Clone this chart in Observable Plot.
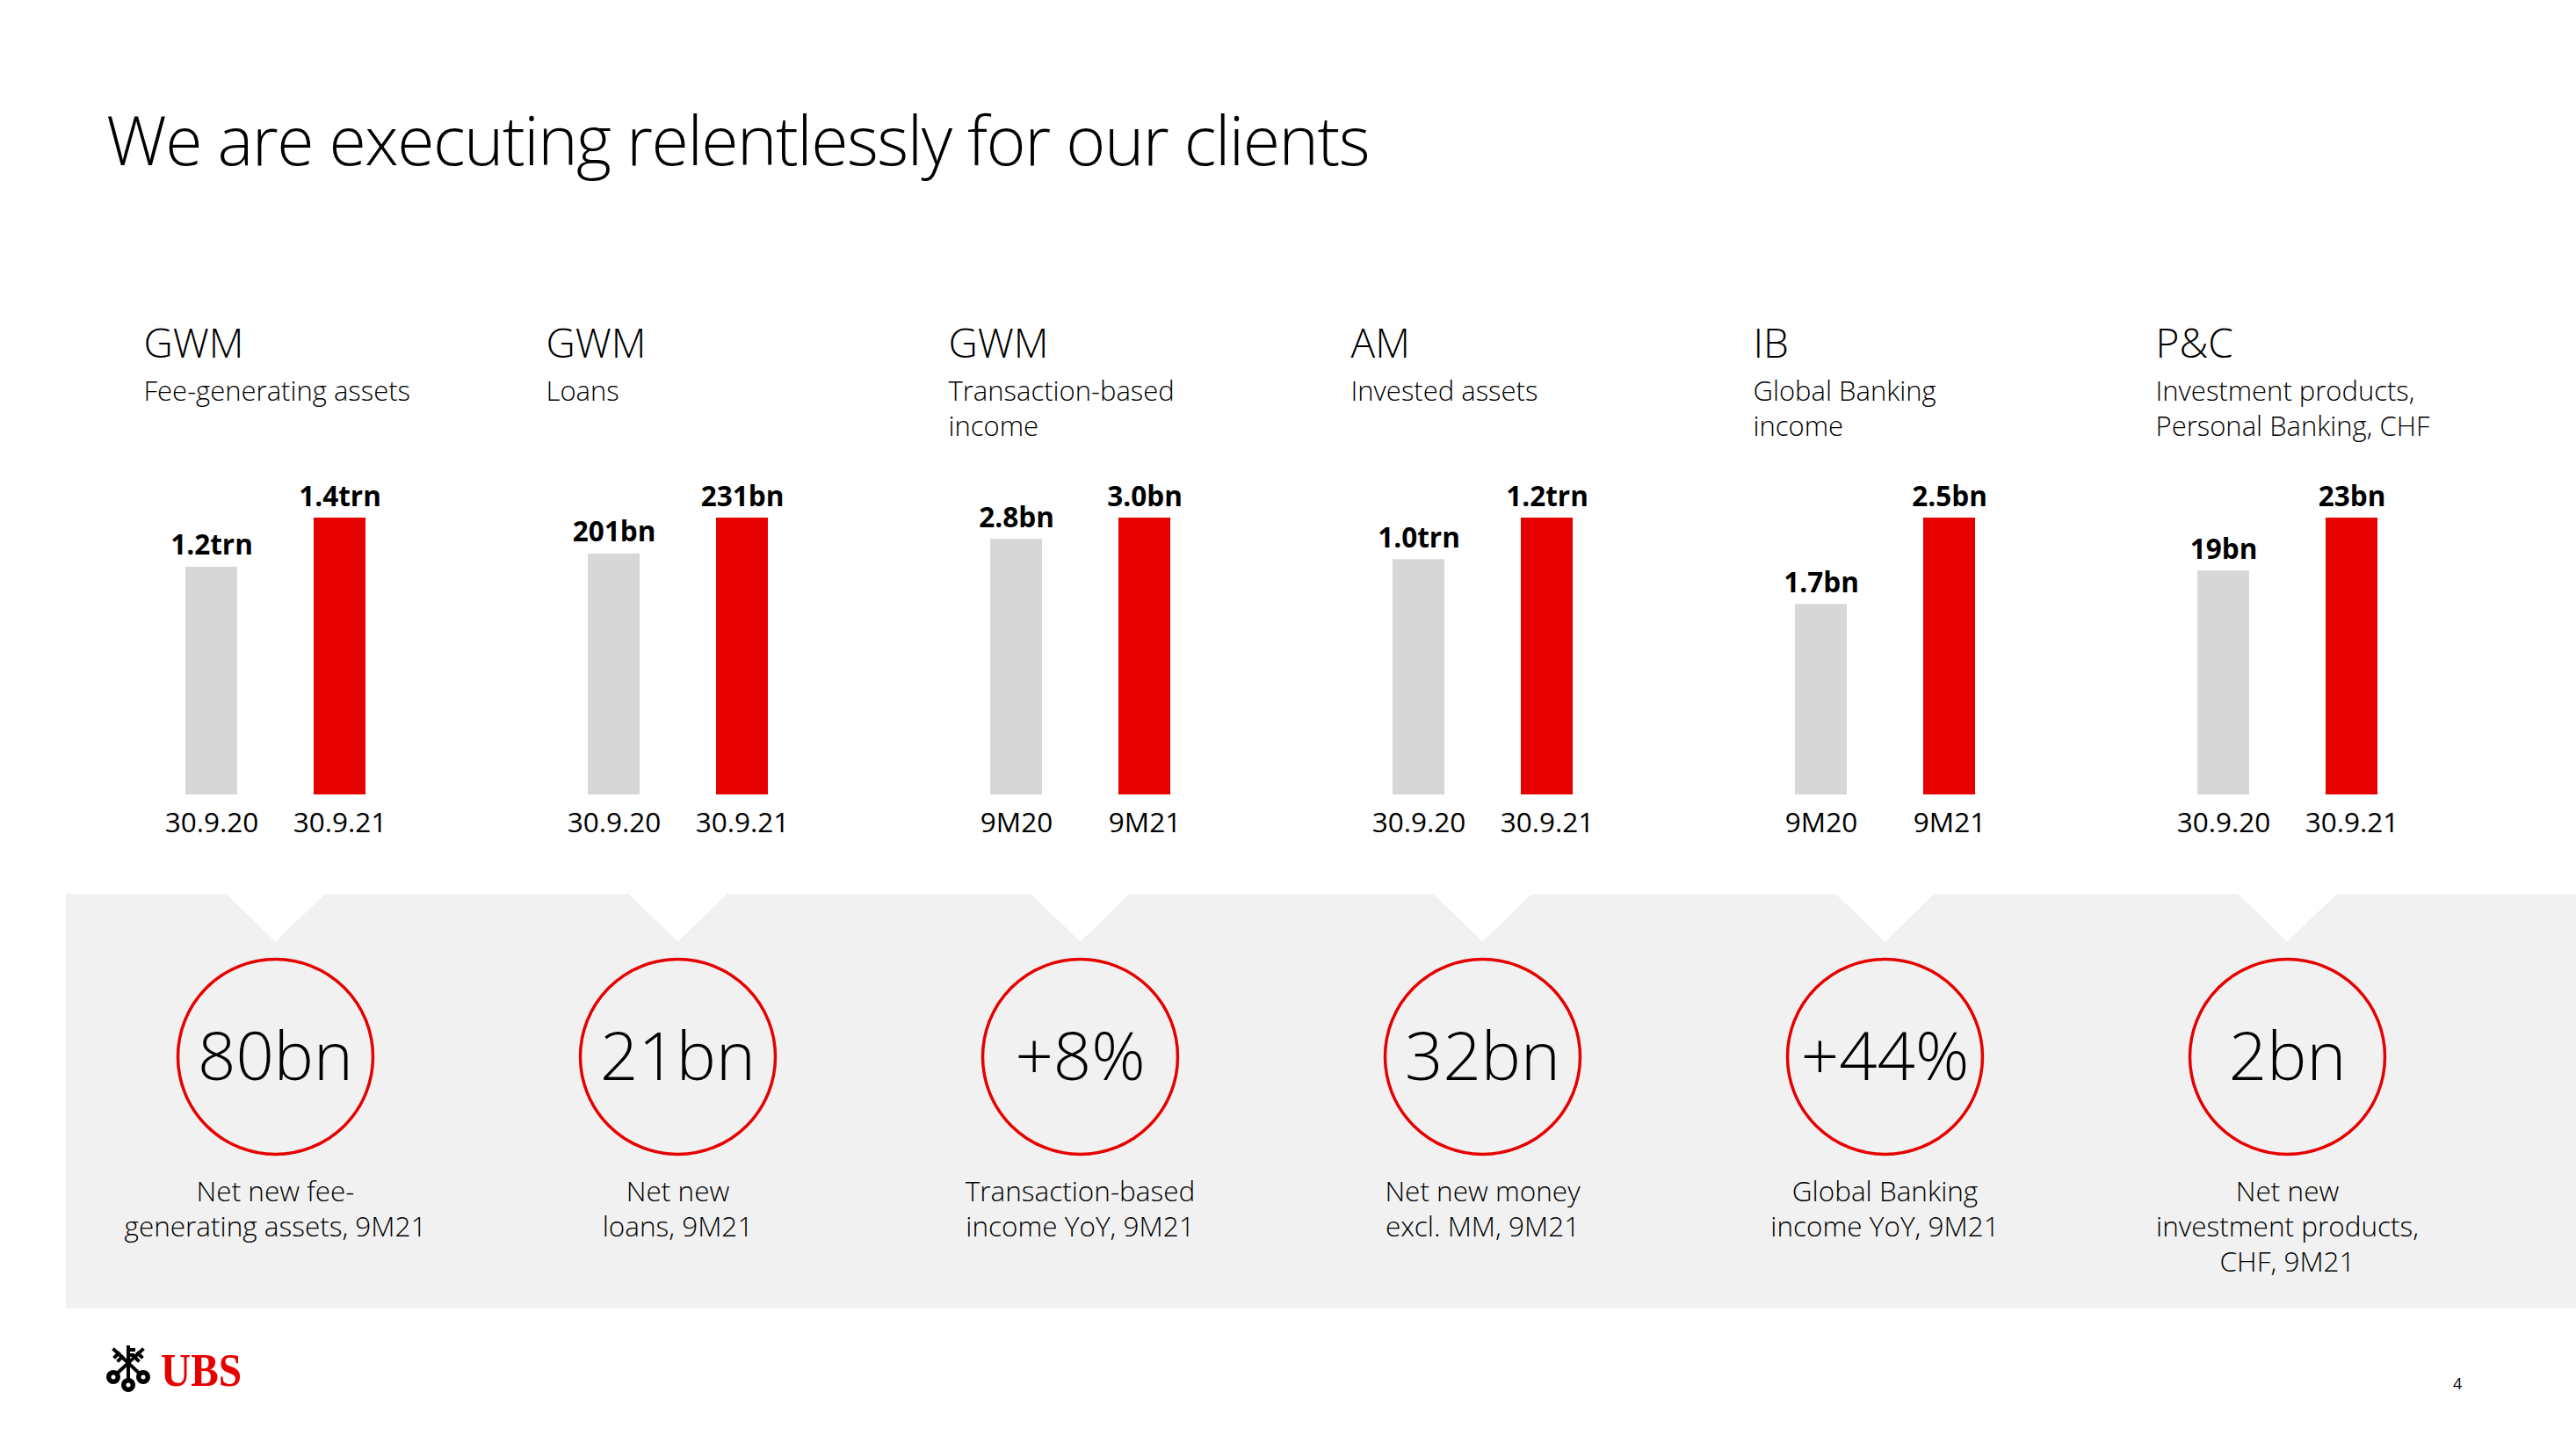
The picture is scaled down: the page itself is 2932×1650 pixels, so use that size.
<!DOCTYPE html>
<html>
<head>
<meta charset="utf-8">
<script src="https://cdn.jsdelivr.net/npm/d3@7"></script>
<script src="https://cdn.jsdelivr.net/npm/@observablehq/plot@0.6"></script>
<style>
  html, body { margin: 0; padding: 0; background: #ffffff; }
  #page { position: relative; width: 2932px; height: 1650px; overflow: hidden; font-family: "Open Sans", "Noto Sans", sans-serif; color: #000; }
  #title { position: absolute; left: 121px; top: 120px; font-size: 77px; line-height: 1; font-weight: 300; letter-spacing: -1.5px; white-space: nowrap; }
  #band { position: absolute; left: 75px; top: 1017px; width: 2857px; height: 472px; background: #f1f1f1; }
  #chart { position: absolute; left: 0; top: 0; }
  #logo { position: absolute; left: 110px; top: 1520px; }
  #pageno { position: absolute; left: 2792px; top: 1565px; font-size: 18px; line-height: 1; }
</style>
</head>
<body>
<div id="page">
  <div id="band"></div>
  <div id="title">We are executing relentlessly for our clients</div>
  <div id="chart"></div>
  <svg id="logo" width="200" height="80" viewBox="0 0 200 80">
    <g stroke="#000" stroke-width="4" stroke-linecap="square" fill="none">
      <line x1="36" y1="13" x2="36" y2="50"/>
      <line x1="21" y1="45" x2="52" y2="16"/>
      <line x1="51" y1="45" x2="20" y2="16"/>
      <line x1="36" y1="16" x2="42" y2="16"/>
      <line x1="36" y1="22" x2="41" y2="22"/>
      <line x1="47" y1="20" x2="51" y2="24"/>
      <line x1="43" y1="24" x2="47" y2="28"/>
      <line x1="25" y1="20" x2="21" y2="24"/>
      <line x1="29" y1="24" x2="25" y2="28"/>
    </g>
    <g fill="#000">
      <circle cx="36" cy="56" r="8"/>
      <circle cx="19" cy="47" r="8"/>
      <circle cx="53" cy="47" r="8"/>
    </g>
    <g fill="#fff">
      <circle cx="36" cy="56" r="2.5"/>
      <circle cx="19" cy="47" r="2.5"/>
      <circle cx="53" cy="47" r="2.5"/>
    </g>
    <text x="73" y="57" font-family="Liberation Serif, serif" font-weight="bold" font-size="52" fill="#e60000" textLength="92" lengthAdjust="spacingAndGlyphs">UBS</text>
  </svg>
  <div id="pageno">4</div>
</div>
<script>
// ---- Data ----
const divisions = ["GWM", "GWM", "GWM", "AM", "IB", "P&C"];
const metrics = [
  "Fee-generating assets",
  "Loans",
  "Transaction-based\nincome",
  "Invested assets",
  "Global Banking\nincome",
  "Investment products,\nPersonal Banking, CHF"
];
const periodsPrev = ["30.9.20", "30.9.20", "9M20", "30.9.20", "9M20", "30.9.20"];
const periodsCurr = ["30.9.21", "30.9.21", "9M21", "30.9.21", "9M21", "30.9.21"];
// values in each panel's own unit (trn or bn)
const valuesPrev = [1.16, 201, 2.77, 1.02, 1.72, 18.7];
const valuesCurr = [1.41, 231, 3.0, 1.2, 2.5, 23.1];
const labelsPrev = ["1.2trn", "201bn", "2.8bn", "1.0trn", "1.7bn", "19bn"];
const labelsCurr = ["1.4trn", "231bn", "3.0bn", "1.2trn", "2.5bn", "23bn"];
const kpiValues = ["80bn", "21bn", "+8%", "32bn", "+44%", "2bn"];
const kpiLabels = [
  "Net new fee-\ngenerating assets, 9M21",
  "Net new\nloans, 9M21",
  "Transaction-based\nincome YoY, 9M21",
  "Net new money\nexcl. MM, 9M21",
  "Global Banking\nincome YoY, 9M21",
  "Net new\ninvestment products,\nCHF, 9M21"
];

const GRAY = "#d7d7d7";
const RED = "#e60000";

// tables built from the arrays
const panels = metrics.map((m, i) => ({
  metric: m, division: divisions[i], kpi: kpiValues[i], kpiLabel: kpiLabels[i]
}));
const bars = metrics.flatMap((m, i) => {
  const max = Math.max(valuesPrev[i], valuesCurr[i]);
  return [
    {metric: m, period: "prev", periodLabel: periodsPrev[i], value: valuesPrev[i], share: valuesPrev[i] / max, label: labelsPrev[i]},
    {metric: m, period: "curr", periodLabel: periodsCurr[i], value: valuesCurr[i], share: valuesCurr[i] / max, label: labelsCurr[i]}
  ];
});

// notch cut into the grey band above each circle
const notch = {
  draw(context) {
    context.moveTo(-59, -3);
    context.lineTo(59, -3);
    context.lineTo(0, 54);
    context.closePath();
  }
};

const FONT = '"Open Sans", "Noto Sans", sans-serif';

const chart = Plot.plot({
  width: 2932,
  height: 1650,
  marginLeft: 84,
  marginRight: 100,
  marginTop: 589,
  marginBottom: 746,
  style: {fontFamily: FONT, background: "transparent", overflow: "visible", color: "#000"},
  fx: {domain: metrics, padding: 0, axis: null},
  x: {domain: ["prev", "curr"], paddingInner: 0.596, paddingOuter: 0.866, axis: null},
  y: {domain: [0, 1], axis: null},
  color: {domain: ["prev", "curr"], range: [GRAY, RED]},
  marks: [
    // bars
    Plot.barY(bars, {fx: "metric", x: "period", y: "share", fill: "period"}),
    // value labels
    Plot.text(bars, {fx: "metric", x: "period", y: "share", text: "label", lineAnchor: "bottom", dy: -14, fontSize: 31.5, fontWeight: "bold", fill: "#000"}),
    // period labels under bars
    Plot.text(bars, {fx: "metric", x: "period", text: "periodLabel", frameAnchor: "bottom", lineAnchor: "bottom", dy: 42, fontSize: 31.5, fontWeight: 400, fill: "#000"}),
    // division headers
    Plot.text(panels, {fx: "metric", text: "division", frameAnchor: "top-left", textAnchor: "start", lineAnchor: "bottom", dx: 79, dy: -183, fontSize: 46, fontWeight: 300, letterSpacing: 1, fill: "#000"}),
    // metric subtitles
    Plot.text(panels, {fx: "metric", text: "metric", frameAnchor: "top-left", textAnchor: "start", lineAnchor: "top", dx: 79, dy: -162, fontSize: 31, lineHeight: 1.29, fontWeight: 300, fill: "#000"}),
    // notches in the band
    Plot.dot(panels, {fx: "metric", frameAnchor: "bottom", dy: 113, symbol: notch, r: 10, fill: "#ffffff", stroke: "none"}),
    // KPI circles
    Plot.dot(panels, {fx: "metric", frameAnchor: "bottom", dy: 298, r: 111, fill: "none", stroke: RED, strokeWidth: 3.5}),
    // KPI values
    Plot.text(panels, {fx: "metric", text: "kpi", frameAnchor: "bottom", lineAnchor: "middle", dy: 300, fontSize: 76, fontWeight: 300, fill: "#000"}),
    // KPI descriptions
    Plot.text(panels, {fx: "metric", text: "kpiLabel", frameAnchor: "bottom", lineAnchor: "top", dy: 434, fontSize: 31.5, lineHeight: 1.27, fontWeight: 300, fill: "#000"})
  ]
});
document.getElementById("chart").appendChild(chart);
</script>
</body>
</html>
